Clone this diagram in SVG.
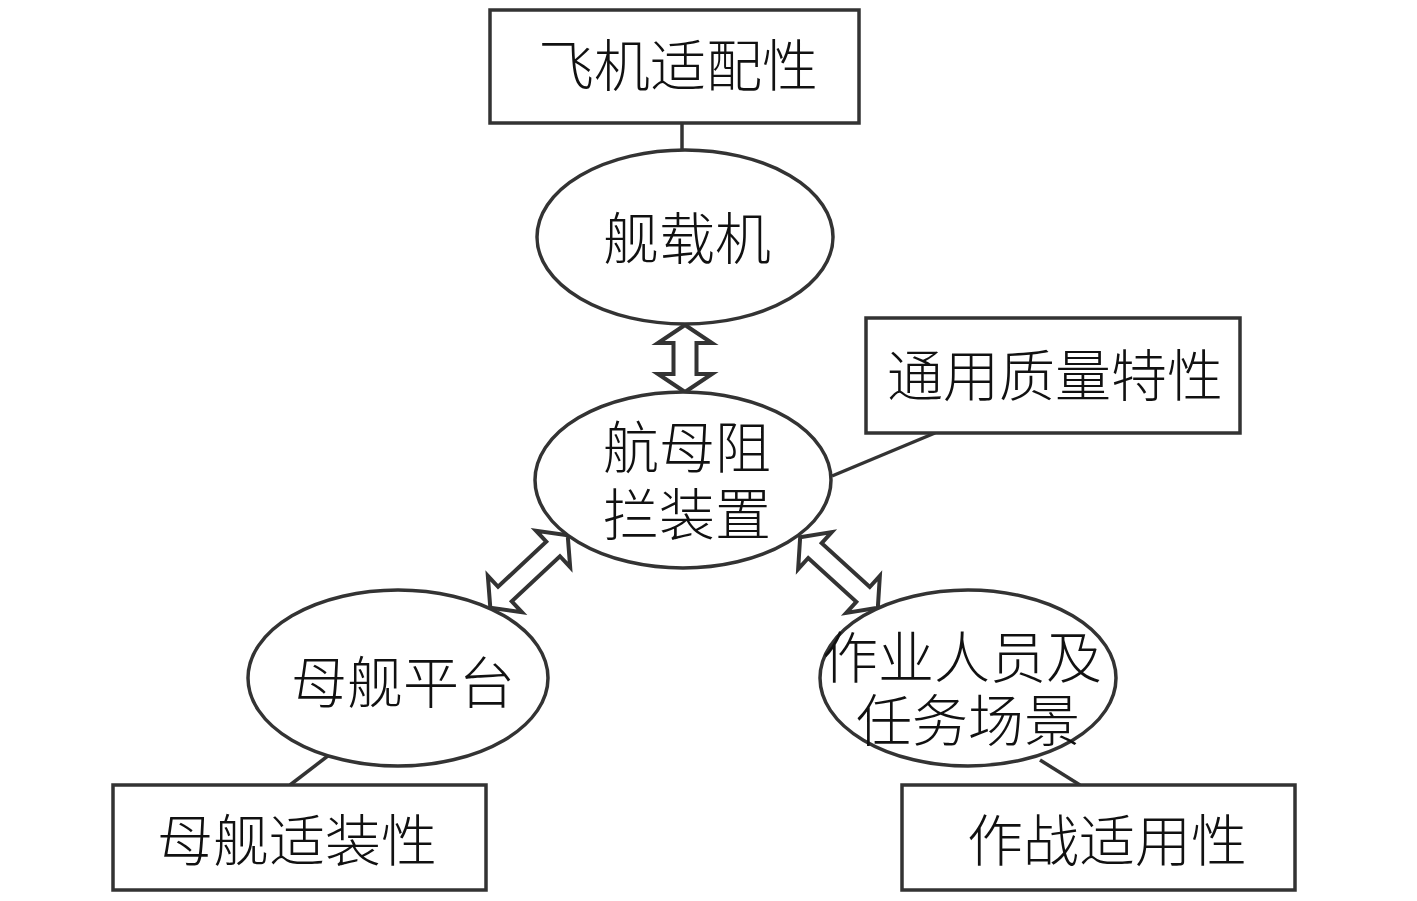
<svg xmlns="http://www.w3.org/2000/svg" width="1417" height="901" viewBox="0 0 1417 901">
<defs>
<style>
.box{fill:#fff;stroke:#333;stroke-width:3.5}
.ell{fill:#fff;stroke:#333;stroke-width:3.5}
.ln{stroke:#333;stroke-width:3.5;fill:none}
.arr{fill:#fff;stroke:#333;stroke-width:4;stroke-linejoin:miter}
.t{font-family:"Noto Sans CJK SC","Noto Sans",sans-serif;font-weight:300;font-size:56px;fill:#111;text-anchor:middle}
</style>
</defs>
<rect width="1417" height="901" fill="#fff"/>
<g id="connectors">
<line class="ln" x1="682" y1="123" x2="682" y2="152"/>
<line class="ln" x1="832" y1="476" x2="935" y2="433"/>
<line class="ln" x1="290" y1="785" x2="333" y2="752"/>
<line class="ln" x1="1040" y1="760" x2="1080" y2="785"/>
<polygon class="arr" transform="translate(685,358.5) rotate(90)" points="-33.5,0 -15.5,-27 -15.5,-11.5 15.5,-11.5 15.5,-27 33.5,0 15.5,27 15.5,11.5 -15.5,11.5 -15.5,27"/>
<polygon class="arr" transform="translate(529,571.5) rotate(-43.1)" points="-53,0 -33,-25 -33,-10 33,-10 33,-25 53,0 33,25 33,10 -33,10 -33,25"/>
<polygon class="arr" transform="translate(839,572.5) rotate(42.3)" points="-52.5,0 -32.5,-25 -32.5,-10 32.5,-10 32.5,-25 52.5,0 32.5,25 32.5,10 -32.5,10 -32.5,25"/>
</g>
<g id="box-aircraft-fit">
<rect class="box" x="490" y="10" width="369" height="113"/>
<text class="t" x="678" y="86">飞机适配性</text>
</g>
<g id="node-carrier-aircraft">
<ellipse class="ell" cx="685" cy="237" rx="148" ry="87"/>
<text class="t" x="687" y="259">舰载机</text>
</g>
<g id="node-arresting-gear">
<ellipse class="ell" cx="683" cy="480" rx="148" ry="88"/>
<text class="t" x="687" y="468">航母阻</text>
<text class="t" x="687" y="535">拦装置</text>
</g>
<g id="box-general-quality">
<rect class="box" x="866" y="318" width="374" height="115"/>
<text class="t" x="1055" y="396">通用质量特性</text>
</g>
<g id="node-mother-ship">
<ellipse class="ell" cx="398" cy="678" rx="150" ry="88"/>
<text class="t" x="403" y="703">母舰平台</text>
</g>
<g id="box-ship-fit">
<rect class="box" x="113" y="785" width="373" height="105"/>
<text class="t" x="297" y="861">母舰适装性</text>
</g>
<g id="node-personnel">
<ellipse class="ell" cx="968" cy="678" rx="148" ry="88"/>
<text class="t" x="962" y="678">作业人员及</text>
<text class="t" x="968" y="741">任务场景</text>
</g>
<g id="box-combat-fit">
<rect class="box" x="902" y="785" width="393" height="105"/>
<text class="t" x="1107" y="861">作战适用性</text>
</g>
</svg>
